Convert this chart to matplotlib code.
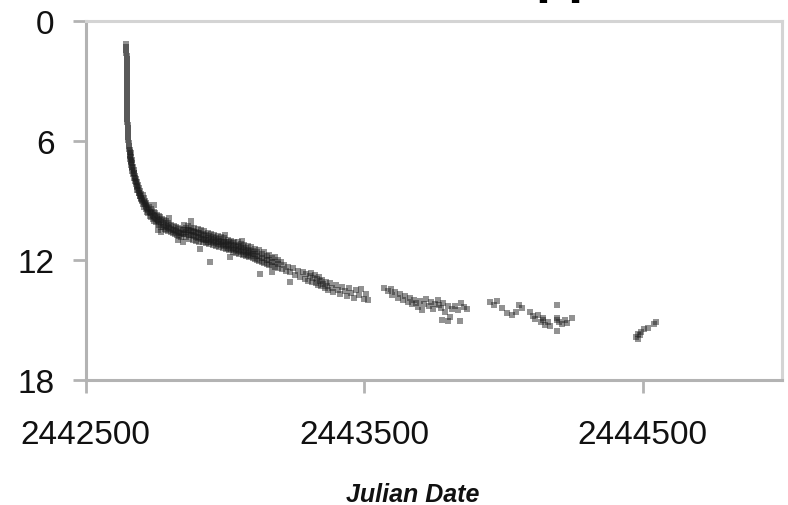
import matplotlib
matplotlib.use("Agg")
import matplotlib.pyplot as plt

plt.rcParams['font.family'] = ['Liberation Sans', 'DejaVu Sans']

# ---- data: (Julian Date, magnitude) ----
peak_jd = [2442646, 2442646, 2442646, 2442646, 2442647, 2442647, 2442647, 2442647, 2442647,
           2442647, 2442648, 2442648, 2442648, 2442648, 2442648, 2442648, 2442648, 2442649,
           2442649, 2442649, 2442649, 2442649, 2442649, 2442650, 2442650, 2442650, 2442650,
           2442651, 2442651, 2442651, 2442652, 2442652, 2442653, 2442654, 2442655, 2442657, 2442658]
peak_mag = [1.15, 1.3, 1.45, 1.6, 1.75, 1.9, 2.05, 2.2, 2.35, 2.5, 2.65, 2.8, 2.95, 3.1, 3.25,
            3.4, 3.55, 3.7, 3.85, 4.0, 4.15, 4.3, 4.45, 4.6, 4.75, 4.9, 5.05, 5.2, 5.35, 5.5,
            5.65, 5.8, 5.95, 6.1, 6.25, 6.4, 6.55]

early = [(2442658, 6.7), (2442659, 6.45), (2442660, 6.9), (2442661, 6.6), (2442662, 7.0),
         (2442663, 6.8), (2442664, 7.2), (2442665, 6.95), (2442666, 7.35), (2442667, 7.1),
         (2442668, 7.5), (2442670, 7.3), (2442671, 7.65), (2442672, 7.45), (2442674, 7.85),
         (2442675, 7.6), (2442677, 8.0), (2442678, 7.75), (2442680, 8.15), (2442681, 7.9),
         (2442683, 8.3), (2442684, 8.05), (2442686, 8.45), (2442688, 8.2), (2442690, 8.6),
         (2442692, 8.35), (2442694, 8.75), (2442696, 8.5), (2442698, 8.9), (2442700, 8.65),
         (2442703, 9.0), (2442705, 8.7), (2442707, 9.15), (2442709, 8.85), (2442711, 9.3),
         (2442713, 9.0), (2442716, 9.4), (2442718, 9.1), (2442720, 9.55), (2442723, 9.2),
         (2442725, 9.6), (2442728, 9.3), (2442730, 9.75), (2442733, 9.4), (2442736, 9.8),
         (2442738, 9.5), (2442741, 9.9), (2442744, 9.55), (2442747, 10.0), (2442750, 9.6),
         (2442753, 10.05), (2442756, 9.7), (2442759, 10.15), (2442762, 9.75), (2442765, 10.2),
         (2442768, 9.8), (2442771, 10.3), (2442774, 9.9), (2442777, 10.3), (2442780, 9.95),
         (2442784, 10.4), (2442787, 10.0), (2442790, 10.45), (2442794, 10.1), (2442797, 10.5),
         (2442801, 10.15), (2442805, 10.55), (2442808, 10.2), (2442812, 10.6), (2442816, 10.25),
         (2442820, 10.65), (2442824, 10.3), (2442828, 10.7), (2442832, 10.35), (2442836, 10.75),
         (2442840, 10.4), (2442844, 10.8), (2442848, 10.45),
         (2442745, 9.2), (2442760, 10.45), (2442770, 10.55), (2442800, 9.85), (2442830, 10.95)]

early_center = [(2442660, 6.75), (2442664, 7.05), (2442668, 7.3), (2442672, 7.6), (2442676, 7.85),
                (2442680, 8.05), (2442684, 8.25), (2442688, 8.45), (2442692, 8.6), (2442696, 8.75),
                (2442700, 8.85), (2442704, 8.95), (2442708, 9.05), (2442712, 9.15), (2442716, 9.25),
                (2442720, 9.35), (2442725, 9.45), (2442730, 9.55), (2442735, 9.6), (2442740, 9.7),
                (2442745, 9.75), (2442750, 9.85), (2442755, 9.9), (2442760, 9.95), (2442765, 10.0),
                (2442770, 10.05), (2442776, 10.1), (2442782, 10.2), (2442788, 10.25),
                (2442794, 10.3), (2442800, 10.35), (2442806, 10.4), (2442812, 10.45),
                (2442818, 10.45), (2442824, 10.5), (2442830, 10.55), (2442836, 10.6),
                (2442842, 10.6), (2442848, 10.65)]

mid_jd = [2442854, 2442860, 2442866, 2442872, 2442878, 2442884, 2442890, 2442896, 2442902,
          2442908, 2442914, 2442920, 2442926, 2442932, 2442938, 2442944, 2442950, 2442956,
          2442962, 2442968, 2442974, 2442980, 2442986, 2442992, 2442998, 2443004, 2443010,
          2443016, 2443022, 2443028, 2443034, 2443040, 2443046, 2443052, 2443058, 2443064,
          2443070, 2443076, 2443082, 2443088, 2443094, 2443100, 2443108, 2443116, 2443124,
          2443132, 2443140, 2443150, 2443160, 2443170, 2443180, 2443192]
mid_mag_bright = [10.2, 10.35, 10.25, 10.45, 10.3, 10.5, 10.35, 10.55, 10.4, 10.6, 10.45, 10.65,
                  10.5, 10.7, 10.6, 10.75, 10.65, 10.8, 10.7, 10.85, 10.75, 10.9, 10.8, 11.0,
                  10.85, 11.05, 10.95, 11.1, 11.0, 11.15, 11.05, 11.25, 11.1, 11.3, 11.2, 11.35,
                  11.25, 11.4, 11.3, 11.5, 11.35, 11.55, 11.45, 11.6, 11.5, 11.7, 11.6, 11.8,
                  11.75, 11.9, 11.85, 12.0]
mid_mag_center = [10.45, 10.55, 10.45, 10.7, 10.5, 10.7, 10.55, 10.8, 10.6, 10.8, 10.7, 10.9,
                  10.75, 10.95, 10.85, 10.95, 10.9, 11.0, 10.95, 11.1, 11.0, 11.1, 11.05, 11.2,
                  11.1, 11.25, 11.2, 11.3, 11.25, 11.4, 11.3, 11.45, 11.35, 11.5, 11.4, 11.55,
                  11.5, 11.6, 11.55, 11.65, 11.6, 11.7, 11.7, 11.8, 11.8, 11.9, 11.9, 12.0,
                  12.0, 12.1, 12.1, 12.2]
mid_mag_faint = [10.65, 10.8, 10.6, 10.9, 10.7, 10.95, 10.75, 11.0, 10.85, 11.05, 10.9, 11.1,
                 10.95, 11.15, 11.05, 11.2, 11.1, 11.25, 11.15, 11.3, 11.2, 11.35, 11.25, 11.4,
                 11.3, 11.45, 11.4, 11.5, 11.45, 11.6, 11.5, 11.65, 11.55, 11.7, 11.6, 11.75,
                 11.7, 11.8, 11.75, 11.85, 11.8, 11.9, 11.95, 12.0, 12.05, 12.1, 12.15, 12.2,
                 12.25, 12.3, 12.35, 12.4]
mid_extra = [(2442850, 11.1), (2442880, 10.0), (2442947, 12.1), (2443000, 10.7),
             (2443060, 11.0), (2443126, 12.7), (2442910, 11.45), (2443020, 11.85)]

season_1977 = [(2443200, 12.1), (2443206, 12.45), (2443212, 12.25), (2443218, 12.55),
               (2443226, 12.35), (2443234, 12.6), (2443244, 12.4), (2443252, 12.75),
               (2443262, 12.55), (2443270, 12.85), (2443280, 12.6), (2443286, 12.95),
               (2443292, 12.7), (2443298, 13.05), (2443304, 12.8), (2443310, 12.65),
               (2443314, 13.1), (2443318, 12.9), (2443322, 12.75), (2443326, 13.15),
               (2443330, 12.95), (2443334, 13.25), (2443338, 12.85), (2443342, 13.05),
               (2443346, 13.3), (2443350, 13.0), (2443354, 13.2), (2443358, 13.4),
               (2443362, 13.1), (2443366, 13.3), (2443372, 13.5), (2443378, 13.15),
               (2443384, 13.4), (2443390, 13.6), (2443398, 13.25), (2443406, 13.5),
               (2443414, 13.7), (2443422, 13.35), (2443430, 13.55), (2443438, 13.8),
               (2443446, 13.4), (2443454, 13.65), (2443462, 13.9), (2443470, 13.5),
               (2443480, 13.75), (2443490, 13.45), (2443498, 13.95), (2443506, 13.7),
               (2443514, 14.0), (2443234, 13.1), (2443170, 12.6)]

season_1978 = [(2443570, 13.4), (2443585, 13.55), (2443595, 13.45), (2443600, 13.75),
               (2443612, 13.6), (2443620, 13.9), (2443630, 13.7), (2443640, 14.0),
               (2443648, 13.8), (2443656, 14.1), (2443664, 13.9), (2443672, 14.2),
               (2443680, 14.0), (2443688, 14.15), (2443694, 14.35), (2443700, 14.05),
               (2443708, 14.5), (2443716, 14.2), (2443724, 13.95), (2443732, 14.3),
               (2443740, 14.1), (2443748, 14.45), (2443756, 14.2), (2443764, 14.0),
               (2443770, 14.25), (2443776, 14.4), (2443784, 14.15), (2443792, 14.6),
               (2443800, 14.3), (2443808, 14.85), (2443816, 14.45), (2443826, 14.3),
               (2443836, 14.5), (2443848, 14.15), (2443860, 14.35), (2443870, 14.45),
               (2443780, 15.0), (2443800, 15.05), (2443845, 15.05)]

season_1979 = [(2443953, 14.1), (2443965, 14.25), (2443978, 14.05), (2443996, 14.4),
               (2444014, 14.65), (2444030, 14.75), (2444045, 14.6), (2444055, 14.25),
               (2444068, 14.4), (2444096, 14.6), (2444105, 14.8), (2444115, 14.95),
               (2444125, 14.75), (2444135, 15.1), (2444143, 14.9), (2444143, 15.0),
               (2444150, 15.25), (2444160, 15.1), (2444168, 15.3), (2444193, 14.25),
               (2444193, 14.9), (2444193, 15.0), (2444200, 15.1), (2444212, 15.2),
               (2444222, 15.0), (2444230, 15.15), (2444193, 15.55), (2444247, 14.9)]

season_1980 = [(2444475, 15.85), (2444485, 15.7), (2444485, 15.95), (2444490, 15.75),
               (2444495, 15.6), (2444505, 15.45), (2444520, 15.4), (2444540, 15.2),
               (2444548, 15.1)]

x_ticks = [2442500, 2443500, 2444500]
x_tick_labels = ['2442500', '2443500', '2444500']
y_ticks = [0, 6, 12, 18]
y_tick_labels = ['0', '6', '12', '18']
x_label = 'Julian Date'
title_fragment = 'pp'

# ---- figure ----
W, H = 788, 506
fig = plt.figure(figsize=(W / 100, H / 100), dpi=100)
left, right, top, bottom = 85.7, 781.7, 22.3, 381.0
ax = fig.add_axes([left / W, 1 - bottom / H, (right - left) / W, (bottom - top) / H])

pair_groups = [early, early_center, mid_extra, season_1977, season_1978,
               season_1979, season_1980]
groups_jd = [peak_jd, mid_jd, mid_jd, mid_jd] + [[p[0] for p in g] for g in pair_groups]
groups_mag = ([peak_mag, mid_mag_bright, mid_mag_center, mid_mag_faint]
              + [[p[1] for p in g] for g in pair_groups])
for gj, gm in zip(groups_jd, groups_mag):
    ax.scatter(gj, gm, s=13, marker='s', color='#1c1c1c', alpha=0.48, linewidths=0)

ax.set_xlim(2442500, 2445000)
ax.set_ylim(18, 0)
ax.set_xticks(x_ticks, labels=x_tick_labels)
ax.set_yticks(y_ticks, labels=y_tick_labels)
ax.tick_params(axis='both', direction='out', length=9.4, width=2.0, color='#b3b3b3',
               labelsize=24, labelcolor='#111111')
ax.tick_params(axis='x', pad=19)
ax.tick_params(axis='y', pad=13)

for side in ['left', 'bottom']:
    ax.spines[side].set_color('#b3b3b3')
    ax.spines[side].set_linewidth(2.2)
for side in ['top', 'right']:
    ax.spines[side].set_color('#d4d4d4')
    ax.spines[side].set_linewidth(2.2)

fig.text(413 / W, 4 / H, x_label, ha='center', va='baseline', fontsize=18,
         fontweight='bold', fontstyle='italic', color='#111111')
fig.text(535.5 / W, 1 + 7.5 / H, title_fragment, ha='left', va='baseline', fontsize=39,
         fontweight='bold', color='black')

fig.savefig('out.png', dpi=100)
